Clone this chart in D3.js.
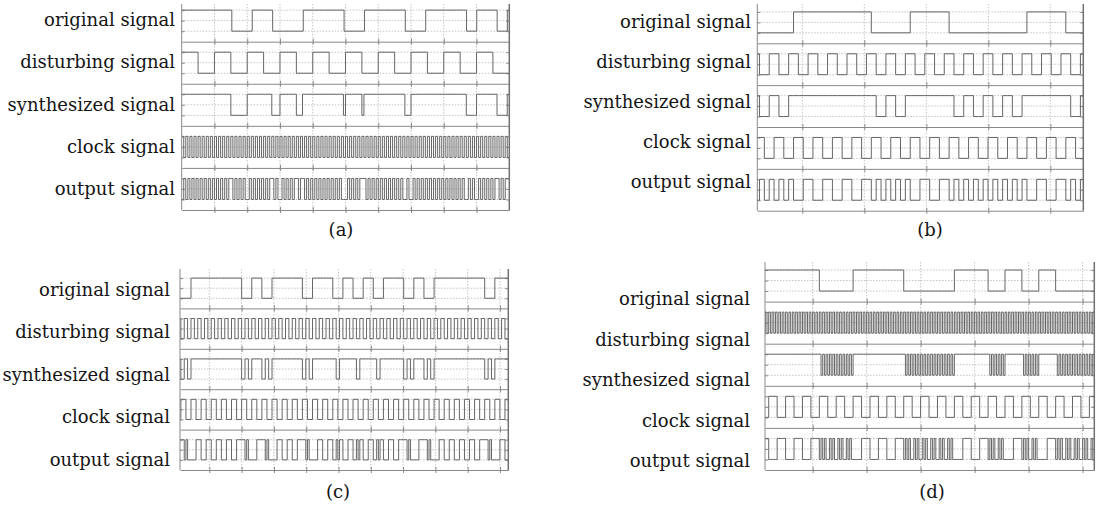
<!DOCTYPE html>
<html><head><meta charset="utf-8">
<script src="https://cdn.jsdelivr.net/npm/d3@7"></script>
<style>body{margin:0;background:#fff;} svg{display:block}</style>
</head><body>
<svg id="chart" width="1103" height="505"></svg>
<script>
// ---------------- DATA ----------------
const signalNames = ["original signal", "disturbing signal", "synthesized signal", "clock signal", "output signal"];
const panelCaptions = ["(a)", "(b)", "(c)", "(d)"];

// Panel (a)
const aDomain = [0, 10];
const aTicks = [1, 2, 3, 4, 5, 6, 7, 8, 9];
const aOriginal = {t0: -0.0275, step: 0.3115, bits: "111110011000111100111100111101101"};
const aDisturbing = {t0: 0, step: 0.5, bits: "10101010101010101010"};
const aSynthesized = {t0: 0, step: 0.0625, bits: "1111111111111111 1111111100000000 1111111111110000 1111111100011111 1111111111111110 1111111101111111 1111111111111000 1111111111111111 1111111111100000 1111111111000001"};
const aClock = {t0: 0, step: 0.0625, bits: "1010101010101010 1010101010101010 1010101010101010 1010101010101010 1010101010101010 1010101010101010 1010101010101010 1010101010101010 1010101010101010 1010101010101010"};
const aOutput = {t0: 0, step: 0.0625, bits: "0101010101010101 0101010110101010 0101010101011010 0101010110110101 0101010101010100 0101010111010101 0101010101010010 0101010101010101 0101010101001010 0101010101101011"};

// Panel (b)
const bDomain = [0.274, 5.532];
const bTicks = [1, 2, 3, 4, 5];
const bOriginal = {t0: 0.2306, step: 0.6274, bits: "011010010"};
const bDisturbing = {t0: 0.1523, step: 0.15686, bits: "10101010 10101010 10101010 10101010 1010"};
const bSynthesized = {t0: 0.1523, step: 0.07843, bits: "1100 1100 1111 1111 1111 1111 1100 1100 1111 1111 1100 1100 1100 1100 1111 1111 1100 1100"};
const bClock = {t0: 0.2307, step: 0.15686, bits: "10101010 10101010 10101010 10101010 1010"};
const bOutput = {t0: 0.1523, step: 0.07843, bits: "1010 1010 1001 1001 1001 1001 1010 1010 1001 1001 1010 1010 1010 1010 1001 1001 1010 1010"};

// Panel (c)
const cDomain = [0.092, 10.257];
const cTicks = [1, 2, 3, 4, 5, 6, 7, 8, 9, 10];
const cOriginal = {t0: -0.195, step: 0.3136, bits: "0011111010111011010101101011111011"};
const cDisturbing = {t0: -0.195, step: 0.10453, bits: "1010101010 1010101010 1010101010 1010101010 1010101010 1010101010 1010101010 1010101010 1010101010 1010101010"};
const cSynthesized = {t0: -0.195, step: 0.05227, bits: "110011 001100 111111 111111 111111 111111 111111 001100 111111 001100 111111 111111 111111 001100 111111 111111 110011 111111 110011 111111 110011 111111 111111 001100 111111 001100 111111 111111 111111 111111 111111 001100 111111 111111"};
const cClock = {t0: -0.195, step: 0.1568, bits: "1010101010 1010101010 1010101010 1010101010 1010101010 1010101010 10101010"};
const cOutput = {t0: -0.195, step: 0.05227, bits: "001011 110100 000111 000111 000111 000111 000111 110100 000111 110100 000111 000111 000111 110100 000111 000111 001011 000111 001011 000111 001011 000111 000111 110100 000111 110100 000111 000111 000111 000111 000111 110100 000111 000111"};

// Panel (d)
const dDomain = [0.117, 6.216];
const dTicks = [1, 2, 3, 4, 5, 6];
const dOriginal = {t0: -0.127, step: 0.3126, bits: "111100111000110101000"};
const dDisturbing = {t0: -0.127, step: 0.03126, bits: "1010101010 1010101010 1010101010 1010101010 1010101010 1010101010 1010101010 1010101010 1010101010 1010101010 1010101010 1010101010 1010101010 1010101010 1010101010 1010101010 1010101010 1010101010 1010101010 1010101010 1010101010"};
const dSynthesized = {t0: -0.127, step: 0.03126, bits: "1111111111 1111111111 1111111111 1111111111 1010101010 1010101010 1111111111 1111111111 1111111111 1010101010 1010101010 1010101010 1111111111 1111111111 1010101010 1111111111 1010101010 1111111111 1010101010 1010101010 1010101010"};
const dClock = {t0: -0.127, step: 0.1563, bits: "1010101010 1010101010 1010101010 1010101010 10"};
const dOutput = {t0: -0.127, step: 0.03126, bits: "0000011111 0000011111 0000011111 0000011111 0101001010 0101001010 0000011111 0000011111 0000011111 0101001010 0101001010 0101001010 0000011111 0000011111 0101001010 0000011111 0101001010 0000011111 0101001010 0101001010 0101001010"};

// ---------------- LAYOUT ----------------
const panels = [
  {domain: aDomain, ticks: aTicks, signals: [aOriginal, aDisturbing, aSynthesized, aClock, aOutput],
   x0: 181.7, x1: 509.3, bottom: 210, pitch: 42.08, top: 4, labelX: 175, labelY0: 26, labelDy: 42.25, capX: 341, capY: 236},
  {domain: bDomain, ticks: bTicks, signals: [bOriginal, bDisturbing, bSynthesized, bClock, bOutput],
   x0: 757.3, x1: 1083.3, bottom: 210.7, pitch: 41.85, top: 4, labelX: 751, labelY0: 28.3, labelDy: 40, capX: 930, capY: 236},
  {domain: cDomain, ticks: cTicks, signals: [cOriginal, cDisturbing, cSynthesized, cClock, cOutput],
   x0: 180, x1: 508.3, bottom: 470, pitch: 40.4, top: 269, labelX: 170, labelY0: 296, labelDy: 42.4, capX: 338, capY: 498},
  {domain: dDomain, ticks: dTicks, signals: [dOriginal, dDisturbing, dSynthesized, dClock, dOutput],
   x0: 765, x1: 1094.3, bottom: 470, pitch: 42.1, top: 262, labelX: 750, labelY0: 305, labelDy: 40.5, capX: 932, capY: 498}
];

const SIG = "#666", AX = "#888", GRID = "#c4c4c4";
const FONT = "'DejaVu Serif', 'Liberation Serif', serif";
const FS = 18;

const svg = d3.select("#chart");
const defs = svg.append("defs");

function toPoints(sig) {
  const b = sig.bits.replace(/\s/g, "");
  const pts = [];
  for (let i = 0; i < b.length; i++) pts.push([sig.t0 + i * sig.step, +b[i]]);
  pts.push([sig.t0 + b.length * sig.step, +b[b.length - 1]]);
  return pts;
}

panels.forEach((P, pi) => {
  const x = d3.scaleLinear().domain(P.domain).range([P.x0, P.x1]);
  const top = Math.max(P.bottom - 5 * P.pitch, P.top);
  const g = svg.append("g");
  const clipId = "clip" + pi;
  defs.append("clipPath").attr("id", clipId).append("rect")
    .attr("x", P.x0).attr("y", top - 2).attr("width", P.x1 - P.x0).attr("height", P.bottom - top + 2);

  g.selectAll("line.vg").data(P.ticks).join("line").attr("class", "vg")
    .attr("x1", d => x(d)).attr("x2", d => x(d)).attr("y1", top).attr("y2", P.bottom)
    .attr("stroke", GRID).attr("stroke-width", 1).attr("stroke-dasharray", "1.5,1.5");

  P.signals.forEach((sig, si) => {
    const b = P.bottom - (4 - si) * P.pitch;
    const y = d3.scaleLinear().domain([-0.5, 1.5]).range([b, b - P.pitch]);
    g.selectAll(null).data([0, 0.5, 1]).join("line")
      .attr("x1", P.x0).attr("x2", P.x1).attr("y1", d => y(d)).attr("y2", d => y(d))
      .attr("stroke", GRID).attr("stroke-width", 1).attr("stroke-dasharray", "1.5,1.5");
    const ax1 = g.append("g").attr("transform", `translate(0,${b})`)
      .call(d3.axisBottom(x).tickValues(P.ticks).tickSize(3).tickSizeOuter(0).tickFormat(""));
    const ax2 = g.append("g").attr("transform", `translate(0,${b})`)
      .call(d3.axisTop(x).tickValues(P.ticks).tickSize(3).tickSizeOuter(0).tickFormat(""));
    ax2.select(".domain").remove();
    [ax1, ax2].forEach(a => { a.selectAll("path,line").attr("stroke", AX); });
    const ly = g.append("g").attr("transform", `translate(${P.x0},0)`)
      .call(d3.axisRight(y).tickValues([0, 0.5, 1]).tickSize(3).tickSizeOuter(0).tickFormat(""));
    ly.select(".domain").remove();
    ly.selectAll("line").attr("stroke", AX);
    const ry = g.append("g").attr("transform", `translate(${P.x1},0)`)
      .call(d3.axisLeft(y).tickValues([0, 0.5, 1]).tickSize(3).tickSizeOuter(0).tickFormat(""));
    ry.select(".domain").remove();
    ry.selectAll("line").attr("stroke", AX);

    const line = d3.line().x(d => x(d[0])).y(d => y(d[1])).curve(d3.curveStepAfter);
    g.append("path").datum(toPoints(sig)).attr("d", line)
      .attr("fill", "none").attr("stroke", SIG).attr("stroke-width", 1)
      .attr("clip-path", `url(#${clipId})`);

    svg.append("text").attr("x", P.labelX).attr("y", P.labelY0 + si * P.labelDy)
      .attr("text-anchor", "end").attr("font-family", FONT).attr("font-size", FS)
      .attr("fill", "#141414").text(signalNames[si]);
  });

  g.append("line").attr("x1", P.x0).attr("x2", P.x0).attr("y1", top).attr("y2", P.bottom)
    .attr("stroke", AX).attr("stroke-width", 1);
  g.append("line").attr("x1", P.x1).attr("x2", P.x1).attr("y1", top).attr("y2", P.bottom)
    .attr("stroke", "#707070").attr("stroke-width", 1.5);

  svg.append("text").attr("x", P.capX).attr("y", P.capY).attr("text-anchor", "middle")
    .attr("font-family", FONT).attr("font-size", FS).attr("fill", "#141414").text(panelCaptions[pi]);
});
</script>
</body></html>
